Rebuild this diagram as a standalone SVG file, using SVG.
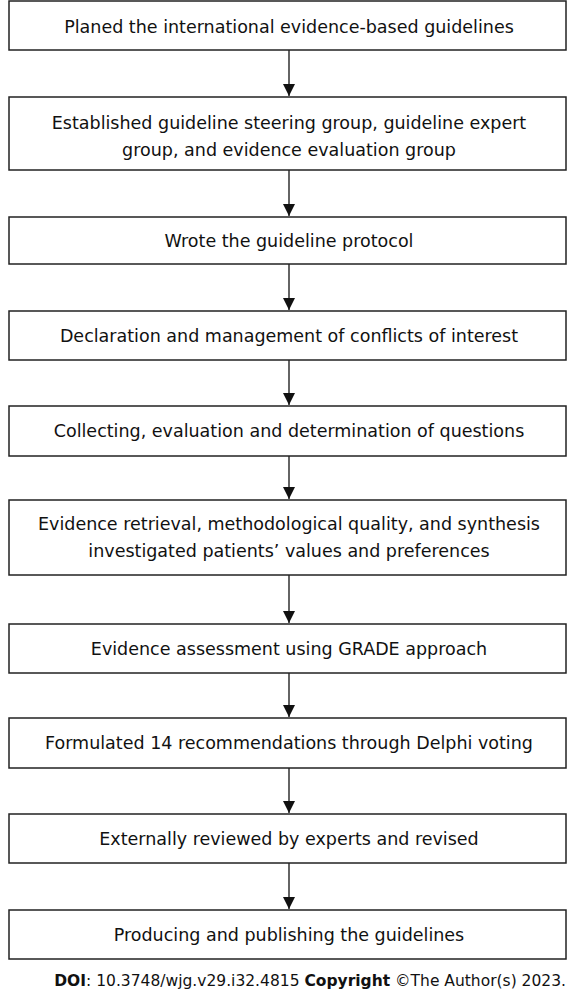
<svg xmlns="http://www.w3.org/2000/svg" width="569" height="996" viewBox="0 0 569 996">
<style>
.box{fill:#fff;stroke:#222;stroke-width:1.5}
.t{font-family:"DejaVu Sans",Tahoma,Verdana,sans-serif;font-size:17.5px;fill:#111;text-anchor:middle}
.c{stroke:#111;stroke-width:1.3;fill:none}
.ft{font-family:"DejaVu Sans",Tahoma,Verdana,sans-serif;font-size:15.5px;fill:#111;text-anchor:end}
</style>
<defs>
<marker id="ah" viewBox="0 0 12 12" refX="12" refY="6" markerWidth="12" markerHeight="12" markerUnits="userSpaceOnUse" orient="auto">
<path d="M0,0 L12,6 L0,12 Z" fill="#111"/>
</marker>
</defs>
<rect width="569" height="996" fill="#fff"/>
<g id="connectors">
<line class="c" x1="289" y1="50" x2="289" y2="96" marker-end="url(#ah)"/>
<line class="c" x1="289" y1="170" x2="289" y2="216" marker-end="url(#ah)"/>
<line class="c" x1="289" y1="264" x2="289" y2="310" marker-end="url(#ah)"/>
<line class="c" x1="289" y1="360" x2="289" y2="405" marker-end="url(#ah)"/>
<line class="c" x1="289" y1="456" x2="289" y2="499" marker-end="url(#ah)"/>
<line class="c" x1="289" y1="575" x2="289" y2="623" marker-end="url(#ah)"/>
<line class="c" x1="289" y1="673" x2="289" y2="717" marker-end="url(#ah)"/>
<line class="c" x1="289" y1="768" x2="289" y2="813" marker-end="url(#ah)"/>
<line class="c" x1="289" y1="863" x2="289" y2="909" marker-end="url(#ah)"/>
</g>
<g id="n1"><rect class="box" x="9" y="1" width="557" height="49"/><text class="t" x="289" y="32.5">Planed the international evidence-based guidelines</text></g>
<g id="n2"><rect class="box" x="9" y="97" width="557" height="73"/><text class="t" x="289" y="129">Established guideline steering group, guideline expert</text><text class="t" x="289" y="156">group, and evidence evaluation group</text></g>
<g id="n3"><rect class="box" x="9" y="217" width="557" height="47"/><text class="t" x="289" y="246.5">Wrote the guideline protocol</text></g>
<g id="n4"><rect class="box" x="9" y="311" width="557" height="49"/><text class="t" x="289" y="341.5">Declaration and management of conflicts of interest</text></g>
<g id="n5"><rect class="box" x="9" y="406" width="557" height="50"/><text class="t" x="289" y="437">Collecting, evaluation and determination of questions</text></g>
<g id="n6"><rect class="box" x="9" y="500" width="557" height="75"/><text class="t" x="289" y="530">Evidence retrieval, methodological quality, and synthesis</text><text class="t" x="289" y="557">investigated patients’ values and preferences</text></g>
<g id="n7"><rect class="box" x="9" y="624" width="557" height="49"/><text class="t" x="289" y="654.5">Evidence assessment using GRADE approach</text></g>
<g id="n8"><rect class="box" x="9" y="718" width="557" height="50"/><text class="t" x="289" y="749">Formulated 14 recommendations through Delphi voting</text></g>
<g id="n9"><rect class="box" x="9" y="814" width="557" height="49"/><text class="t" x="289" y="844.5">Externally reviewed by experts and revised</text></g>
<g id="n10"><rect class="box" x="9" y="910" width="557" height="49"/><text class="t" x="289" y="940.5">Producing and publishing the guidelines</text></g>
<text class="ft" x="566" y="986"><tspan font-weight="bold">DOI</tspan>: 10.3748/wjg.v29.i32.4815 <tspan font-weight="bold">Copyright</tspan> ©The Author(s) 2023.</text>
</svg>
